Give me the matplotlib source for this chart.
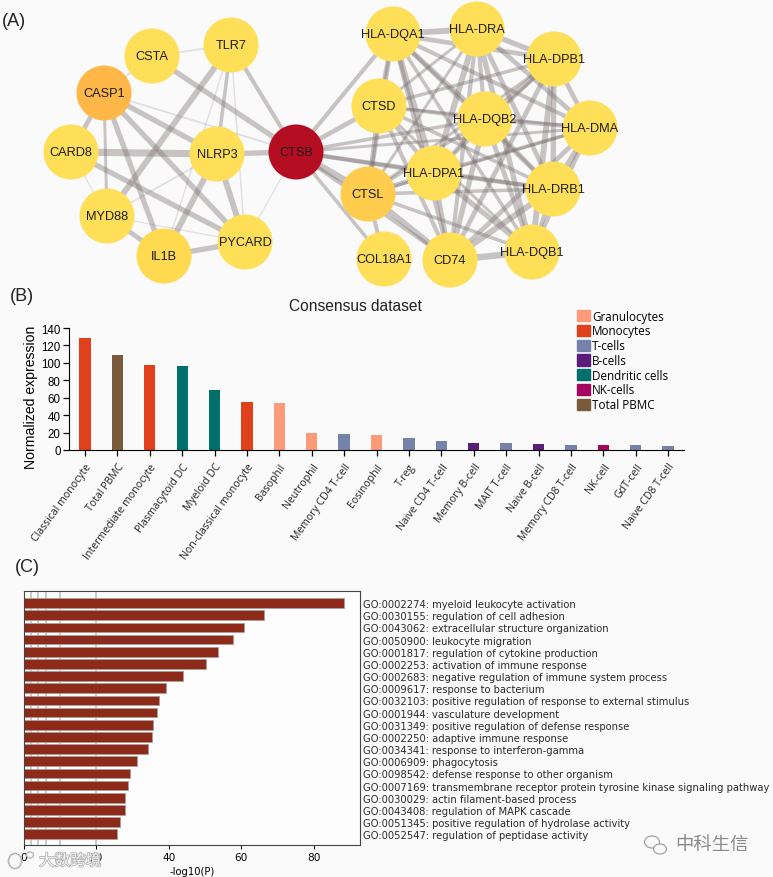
import matplotlib
matplotlib.use("Agg")
import matplotlib.pyplot as plt
import matplotlib.patheffects as pe
from matplotlib.patches import Circle, Ellipse, Patch
from matplotlib.transforms import ScaledTranslation

W, H = 773, 878
BG = "#fafafa"

# --- panel A: node name, position in the picture
node_names = ["CSTA", "TLR7", "CASP1", "CARD8", "NLRP3", "CTSB", "MYD88", "IL1B", "PYCARD",
              "HLA-DQA1", "HLA-DRA", "HLA-DPB1", "CTSD", "HLA-DQB2", "HLA-DMA", "HLA-DPA1",
              "HLA-DRB1", "CTSL", "HLA-DQB1", "COL18A1", "CD74"]
node_x = [152, 231, 104, 71, 217, 296, 107, 164, 245,
          393, 477, 554, 379, 485, 590, 434, 553, 368, 532, 384, 450]
node_y = [57, 46, 94, 153, 155, 153, 217, 257, 243,
          35, 30, 60, 107, 120, 129, 174, 190, 195, 253, 260, 261]
node_colors = {"CASP1": "#ffb847", "CTSL": "#ffcc4d", "IL1B": "#ffd94f", "CTSB": "#b50d22"}

# edges: (a, b, width)
left_edges = [("CSTA", "CTSB", 4.5), ("CSTA", "TLR7", 1.5), ("CSTA", "CASP1", 1.5),
              ("TLR7", "CTSB", 3.5), ("TLR7", "MYD88", 5), ("TLR7", "NLRP3", 3),
              ("TLR7", "IL1B", 1.2), ("TLR7", "PYCARD", 1.2), ("CASP1", "NLRP3", 4.5),
              ("CASP1", "CARD8", 4), ("CASP1", "MYD88", 2.5), ("CASP1", "IL1B", 4.5),
              ("CASP1", "PYCARD", 4.5), ("CASP1", "CTSB", 1.5), ("CARD8", "NLRP3", 6),
              ("CARD8", "PYCARD", 4.5), ("CARD8", "MYD88", 1), ("NLRP3", "CTSB", 4.5),
              ("NLRP3", "IL1B", 5), ("NLRP3", "PYCARD", 5), ("NLRP3", "MYD88", 1.5),
              ("MYD88", "IL1B", 4), ("MYD88", "PYCARD", 1), ("IL1B", "PYCARD", 4.5),
              ("CTSB", "PYCARD", 1), ("CTSB", "HLA-DQA1", 3.5), ("CTSB", "CTSD", 4),
              ("CTSB", "HLA-DQB2", 3), ("CTSB", "HLA-DPA1", 3.5), ("CTSB", "HLA-DRB1", 3.5),
              ("CTSB", "CTSL", 6), ("CTSB", "COL18A1", 3), ("CTSB", "CD74", 3.5),
              ("CTSB", "HLA-DMA", 2.5)]
hla_group = ["HLA-DQA1", "HLA-DRA", "HLA-DPB1", "HLA-DQB2", "HLA-DMA",
             "HLA-DPA1", "HLA-DRB1", "HLA-DQB1", "CD74"]
hla_widths = [5, 4, 4, 3.5, 5, 3.5, 3, 4, 4.5, 3.5, 4, 5, 4, 4.5, 3.5, 5, 4, 3,
              4.5, 5, 4, 3.5, 3, 3.5, 4, 4.5, 3, 5, 4, 4, 3.5, 4.5, 4, 3.5, 5, 5.5]
side_edges = [("CTSD", "HLA-DQA1", 3.5), ("CTSD", "HLA-DRA", 2.5), ("CTSD", "HLA-DPB1", 3),
              ("CTSD", "HLA-DQB2", 3), ("CTSD", "HLA-DMA", 2.5), ("CTSD", "HLA-DPA1", 3.5),
              ("CTSD", "HLA-DRB1", 3), ("CTSD", "CTSL", 4), ("CTSD", "CD74", 3.5),
              ("CTSD", "HLA-DQB1", 2.5), ("CTSL", "HLA-DQA1", 3.5), ("CTSL", "HLA-DRA", 2.5),
              ("CTSL", "HLA-DPA1", 4), ("CTSL", "HLA-DRB1", 3), ("CTSL", "HLA-DQB1", 3),
              ("CTSL", "CD74", 5), ("CTSL", "COL18A1", 3.5), ("CTSL", "HLA-DPB1", 2.5),
              ("CTSL", "HLA-DQB2", 3), ("CTSL", "HLA-DMA", 2.5)]

# --- panel B
cell_types = ["Classical monocyte", "Total PBMC", "Intermediate monocyte", "Plasmacytoid DC",
              "Myeloid DC", "Non-classical monocyte", "Basophil", "Neutrophil",
              "Memory CD4 T-cell", "Eosinophil", "T-reg", "Naive CD4 T-cell", "Memory B-cell",
              "MAIT T-cell", "Naive B-cell", "Memory CD8 T-cell", "NK-cell", "GdT-cell",
              "Naive CD8 T-cell"]
expression = [128, 109, 97.5, 96, 69, 55, 53.5, 19, 18, 17, 14, 10, 8.5, 7.5, 6.5, 6, 5.5, 5.5, 4.5]
cell_groups = ["Mono", "PBMC", "Mono", "DC", "DC", "Mono", "Gran", "Gran", "T", "Gran",
               "T", "T", "B", "T", "B", "T", "NK", "T", "T"]
group_names = {"Gran": "Granulocytes", "Mono": "Monocytes", "T": "T-cells", "B": "B-cells",
               "DC": "Dendritic cells", "NK": "NK-cells", "PBMC": "Total PBMC"}
group_colors = {"Gran": "#fd9b78", "Mono": "#e0401c", "T": "#7583ab", "B": "#5a1d78",
                "DC": "#00706d", "NK": "#a3065f", "PBMC": "#7a5a3c"}

# --- panel C
go_terms = ["GO:0002274: myeloid leukocyte activation", "GO:0030155: regulation of cell adhesion",
            "GO:0043062: extracellular structure organization", "GO:0050900: leukocyte migration",
            "GO:0001817: regulation of cytokine production", "GO:0002253: activation of immune response",
            "GO:0002683: negative regulation of immune system process", "GO:0009617: response to bacterium",
            "GO:0032103: positive regulation of response to external stimulus",
            "GO:0001944: vasculature development", "GO:0031349: positive regulation of defense response",
            "GO:0002250: adaptive immune response", "GO:0034341: response to interferon-gamma",
            "GO:0006909: phagocytosis", "GO:0098542: defense response to other organism",
            "GO:0007169: transmembrane receptor protein tyrosine kinase signaling pathway",
            "GO:0030029: actin filament-based process", "GO:0043408: regulation of MAPK cascade",
            "GO:0051345: positive regulation of hydrolase activity", "GO:0052547: regulation of peptidase activity"]
log_p = [88.5, 66.4, 60.8, 57.7, 53.5, 50.3, 43.8, 39.2, 37.3, 36.6,
         35.7, 35.4, 34.2, 31.2, 29.2, 28.8, 27.8, 27.8, 26.5, 25.6]
grid_lines = [2, 4, 6, 10, 20]


def box(left, top, right, bottom):
    return [left / W, 1 - bottom / H, (right - left) / W, (bottom - top) / H]


plt.rcParams["font.family"] = ["Liberation Sans", "DejaVu Sans"]
fig = plt.figure(figsize=(W / 100, H / 100), dpi=100, facecolor=BG)

# network, drawn straight in picture pixels
net = fig.add_axes([0, 0, 1, 1])
net.set_xlim(0, W)
net.set_ylim(H, 0)
net.axis("off")
pos = {n: (x, y) for n, x, y in zip(node_names, node_x, node_y)}

hla_edges = []
k = 0
for i, a in enumerate(hla_group):
    for b in hla_group[i + 1:]:
        hla_edges.append((a, b, hla_widths[k]))
        k += 1

for a, b, w in left_edges + hla_edges + side_edges:
    alpha = 0.2 if w < 2 else 0.4
    net.plot([pos[a][0], pos[b][0]], [pos[a][1], pos[b][1]], color="#7d7272",
             lw=w * 0.85, alpha=alpha, solid_capstyle="butt", zorder=1)

for n in node_names:
    net.add_patch(Circle(pos[n], 27.5, color=node_colors.get(n, "#ffdf57"), lw=0, zorder=2))
    net.text(pos[n][0], pos[n][1], n, ha="center", va="center", fontsize=9.2,
             color="#1c1c1c", zorder=3)

net.text(2, 22, "(A)", fontsize=13, va="center", color="#222222")
net.text(10, 297, "(B)", fontsize=13, va="center", color="#222222")
net.text(15, 568, "(C)", fontsize=13, va="center", color="#222222")
net.text(355, 307, "Consensus dataset", fontsize=11.2, ha="center", va="center", color="#222222")

# bar chart
ax_b = fig.add_axes(box(69, 329, 684, 451))
ax_b.patch.set_alpha(0)
bar_colors = [group_colors[g] for g in cell_groups]
ax_b.bar(range(len(expression)), expression, width=0.35, color=bar_colors)
ax_b.set_xlim(-0.494, 18.49)
ax_b.set_ylim(0, 140)
ax_b.set_yticks(range(0, 141, 20))
ax_b.set_xticks(range(len(cell_types)))
ax_b.set_xticklabels(cell_types, rotation=54, ha="right", rotation_mode="anchor",
                     fontsize=7.6, family="Open Sans", color="#222222")
shift = ScaledTranslation(-4 / 100, 0, fig.dpi_scale_trans)
for lab in ax_b.get_xticklabels():
    lab.set_transform(lab.get_transform() + shift)
ax_b.tick_params(axis="y", labelsize=8.3, length=4, width=0.9, pad=2)
ax_b.tick_params(axis="x", length=4, width=0.9, pad=4)
ax_b.set_ylabel("Normalized expression", fontsize=10.1)
ax_b.yaxis.set_label_coords(-0.05, 0.44)
ax_b.spines["top"].set_visible(False)
ax_b.spines["right"].set_visible(False)
handles = [Patch(color=group_colors[g], label=group_names[g]) for g in group_names]
ax_b.legend(handles=handles, loc="upper left", bbox_to_anchor=((577 - 69) / 615, 1.15),
            frameon=False, prop={"family": "Open Sans", "size": 8.4}, handlelength=1.1,
            handleheight=1.1, handletextpad=0.2, labelspacing=0.15, borderpad=0, borderaxespad=0)

# enrichment bars
ax_c = fig.add_axes(box(24, 592, 360, 846))
ax_c.set_facecolor("#fdfdfd")
rows = list(range(len(log_p)))
ax_c.vlines(grid_lines, -1.2, 20, color="#bdbdbd", lw=1.1, zorder=1)
ax_c.barh(rows, log_p, height=0.8, color="#8e2a1a", edgecolor="#a8a09c", lw=0.6, zorder=2)
ax_c.set_xlim(0, 92.8)
ax_c.set_ylim(19.88, -0.99)
ax_c.set_xticks([0, 20, 40, 60, 80])
ax_c.yaxis.tick_right()
ax_c.set_yticks(rows)
ax_c.set_yticklabels(go_terms, family="DejaVu Sans", fontsize=7.2, color="#2a2a2a")
ax_c.tick_params(axis="y", length=0, pad=2.2)
ax_c.tick_params(axis="x", labelsize=7.6, length=3, width=0.7, pad=2, labelfontfamily="DejaVu Sans")
ax_c.set_xlabel("-log10(P)", fontsize=7.2, family="DejaVu Sans", labelpad=3)
for s in ax_c.spines.values():
    s.set_linewidth(0.8)
    s.set_color("#444444")

# watermarks on top
top = fig.add_axes([0, 0, 1, 1], zorder=5)
top.set_xlim(0, W)
top.set_ylim(H, 0)
top.axis("off")
top.text(39, 862, "大数跨境", family=["Noto Sans CJK SC", "DejaVu Sans"], fontsize=11.2, va="center",
         color="#f7f7f7", path_effects=[pe.withStroke(linewidth=1.0, foreground="#a8a8a8")])
top.add_patch(Ellipse((15, 862), 13, 15, fill=False, ec="#b8b8b8", lw=1.2))
top.add_patch(Ellipse((30, 856), 7, 6, fill=False, ec="#b8b8b8", lw=1.0))
top.text(675, 845, "中科生信", family=["Noto Sans CJK SC", "DejaVu Sans"], fontsize=13.2, va="center",
         color="#8a8a8a")
top.add_patch(Ellipse((652, 843), 15, 12, fill=False, ec="#999999", lw=0.8))
top.add_patch(Ellipse((660, 850), 13, 10, fc=BG, ec="#999999", lw=0.8))

fig.savefig("out.png", dpi=100, facecolor=BG)
